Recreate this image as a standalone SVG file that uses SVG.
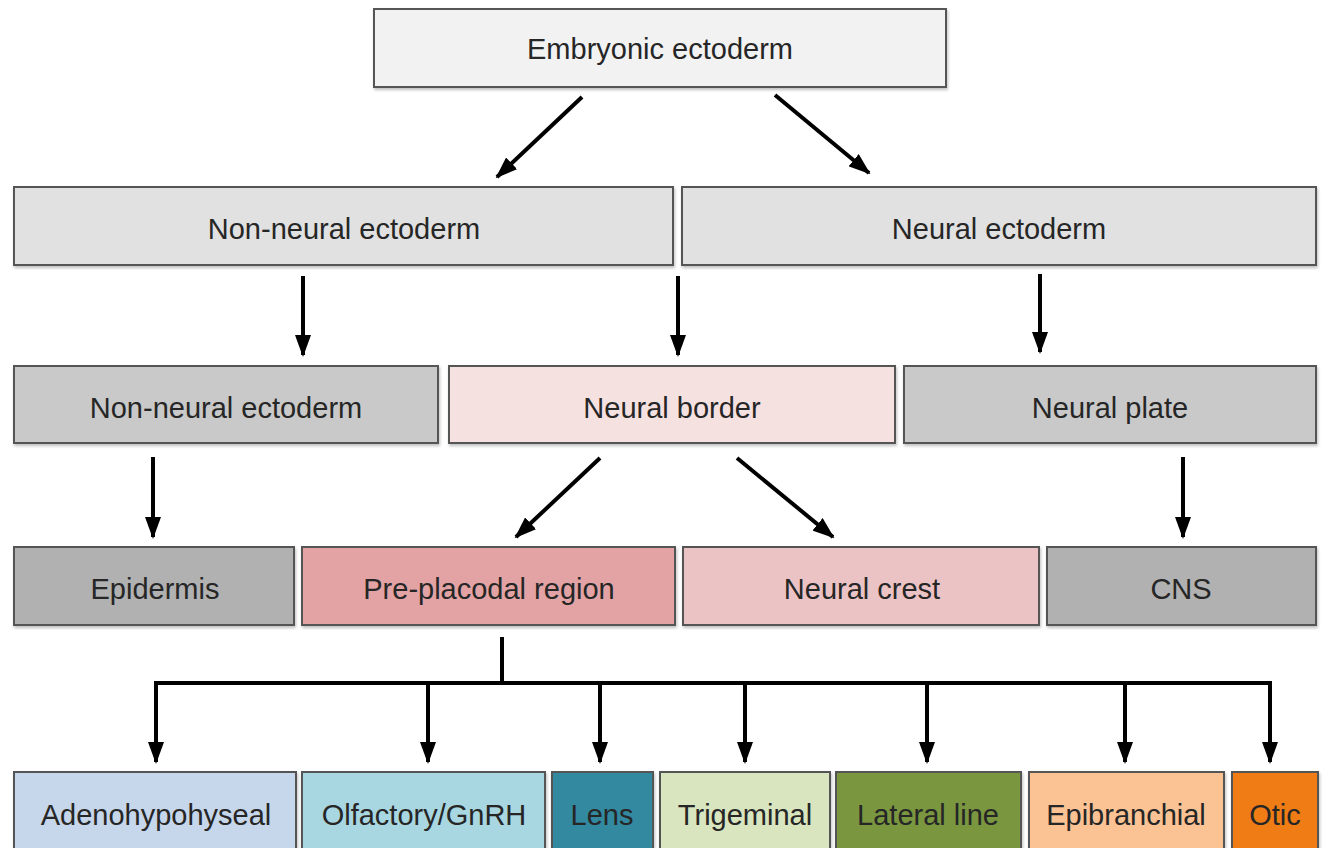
<svg xmlns="http://www.w3.org/2000/svg" width="1323" height="848" viewBox="0 0 1323 848">
<defs>
<marker id="ah" viewBox="0 0 22 16" refX="20" refY="8" markerWidth="22" markerHeight="16" markerUnits="userSpaceOnUse" orient="auto">
<path d="M0,0 L22,8 L0,16 Z" fill="#000"/>
</marker>
<filter id="sh" x="-5%" y="-10%" width="110%" height="130%">
<feDropShadow dx="1" dy="2" stdDeviation="1.5" flood-color="#000" flood-opacity="0.25"/>
</filter>
</defs>
<style>
.box{stroke:#555;stroke-width:2;filter:url(#sh)}
.t{font-family:"Liberation Sans",Arial,sans-serif;font-size:29px;text-anchor:middle;fill:#262626}
.c{stroke:#000;stroke-width:4;fill:none}
.ca{stroke:#000;stroke-width:4;fill:none;marker-end:url(#ah)}
</style>
<rect width="1323" height="848" fill="#fff"/>
<g id="n-embryonic"><rect class="box" x="374" y="9" width="572" height="78" fill="#f2f2f2"/><text class="t" x="660" y="59">Embryonic ectoderm</text></g>
<g id="n-nonneural1"><rect class="box" x="14" y="187" width="659" height="78" fill="#e1e1e1"/><text class="t" x="344" y="239">Non-neural ectoderm</text></g>
<g id="n-neural1"><rect class="box" x="682" y="187" width="634" height="78" fill="#e1e1e1"/><text class="t" x="999" y="239">Neural ectoderm</text></g>
<g id="n-nonneural2"><rect class="box" x="14" y="366" width="424" height="77" fill="#c9c9c9"/><text class="t" x="226" y="418">Non-neural ectoderm</text></g>
<g id="n-border"><rect class="box" x="449" y="366" width="446" height="77" fill="#f6e1e1"/><text class="t" x="672" y="418">Neural border</text></g>
<g id="n-plate"><rect class="box" x="904" y="366" width="412" height="77" fill="#c9c9c9"/><text class="t" x="1110" y="418">Neural plate</text></g>
<g id="n-epidermis"><rect class="box" x="14" y="547" width="280" height="78" fill="#b1b1b1"/><text class="t" x="155" y="599">Epidermis</text></g>
<g id="n-preplacodal"><rect class="box" x="302" y="547" width="373" height="78" fill="#e3a3a5"/><text class="t" x="489" y="599" fill="#4a2626">Pre-placodal region</text></g>
<g id="n-crest"><rect class="box" x="683" y="547" width="356" height="78" fill="#ecc3c5"/><text class="t" x="862" y="599" fill="#3a2a2a">Neural crest</text></g>
<g id="n-cns"><rect class="box" x="1047" y="547" width="269" height="78" fill="#b1b1b1"/><text class="t" x="1181" y="599">CNS</text></g>
<g id="n-adeno"><rect class="box" x="14" y="772" width="282" height="82" fill="#c6d7eb"/><text class="t" x="156" y="825" fill="#1f2f45">Adenohypohyseal</text></g>
<g id="n-olfactory"><rect class="box" x="302" y="772" width="243" height="82" fill="#a8d7e1"/><text class="t" x="424" y="825" fill="#1f3540">Olfactory/GnRH</text></g>
<g id="n-lens"><rect class="box" x="552" y="772" width="101" height="82" fill="#3389a0"/><text class="t" x="602" y="825" fill="#13303a">Lens</text></g>
<g id="n-trigeminal"><rect class="box" x="660" y="772" width="170" height="82" fill="#d8e5be"/><text class="t" x="745" y="825" fill="#2c3a1c">Trigeminal</text></g>
<g id="n-lateral"><rect class="box" x="836" y="772" width="185" height="82" fill="#7a973f"/><text class="t" x="928" y="825" fill="#1f2a10">Lateral line</text></g>
<g id="n-epibranchial"><rect class="box" x="1029" y="772" width="195" height="82" fill="#fbc293"/><text class="t" x="1126" y="825" fill="#3e2616">Epibranchial</text></g>
<g id="n-otic"><rect class="box" x="1232" y="772" width="86" height="82" fill="#f07c14"/><text class="t" x="1275" y="825" fill="#6a2410">Otic</text></g>
<g id="connectors">
<line class="ca" x1="582" y1="97" x2="497" y2="177"/>
<line class="ca" x1="775" y1="95" x2="869" y2="173"/>
<line class="ca" x1="303" y1="276" x2="303" y2="355"/>
<line class="ca" x1="678" y1="276" x2="678" y2="355"/>
<line class="ca" x1="1040" y1="274" x2="1040" y2="352"/>
<line class="ca" x1="153" y1="457" x2="153" y2="537"/>
<line class="ca" x1="600" y1="458" x2="516" y2="537"/>
<line class="ca" x1="737" y1="458" x2="833" y2="537"/>
<line class="ca" x1="1183" y1="457" x2="1183" y2="537"/>
<path class="c" d="M502,637 V683 M154,683 H1272"/>
<line class="ca" x1="156" y1="681" x2="156" y2="762"/>
<line class="ca" x1="428" y1="681" x2="428" y2="762"/>
<line class="ca" x1="600" y1="681" x2="600" y2="762"/>
<line class="ca" x1="745" y1="681" x2="745" y2="762"/>
<line class="ca" x1="927" y1="681" x2="927" y2="762"/>
<line class="ca" x1="1125" y1="681" x2="1125" y2="762"/>
<line class="ca" x1="1270" y1="681" x2="1270" y2="762"/>
</g>
</svg>
